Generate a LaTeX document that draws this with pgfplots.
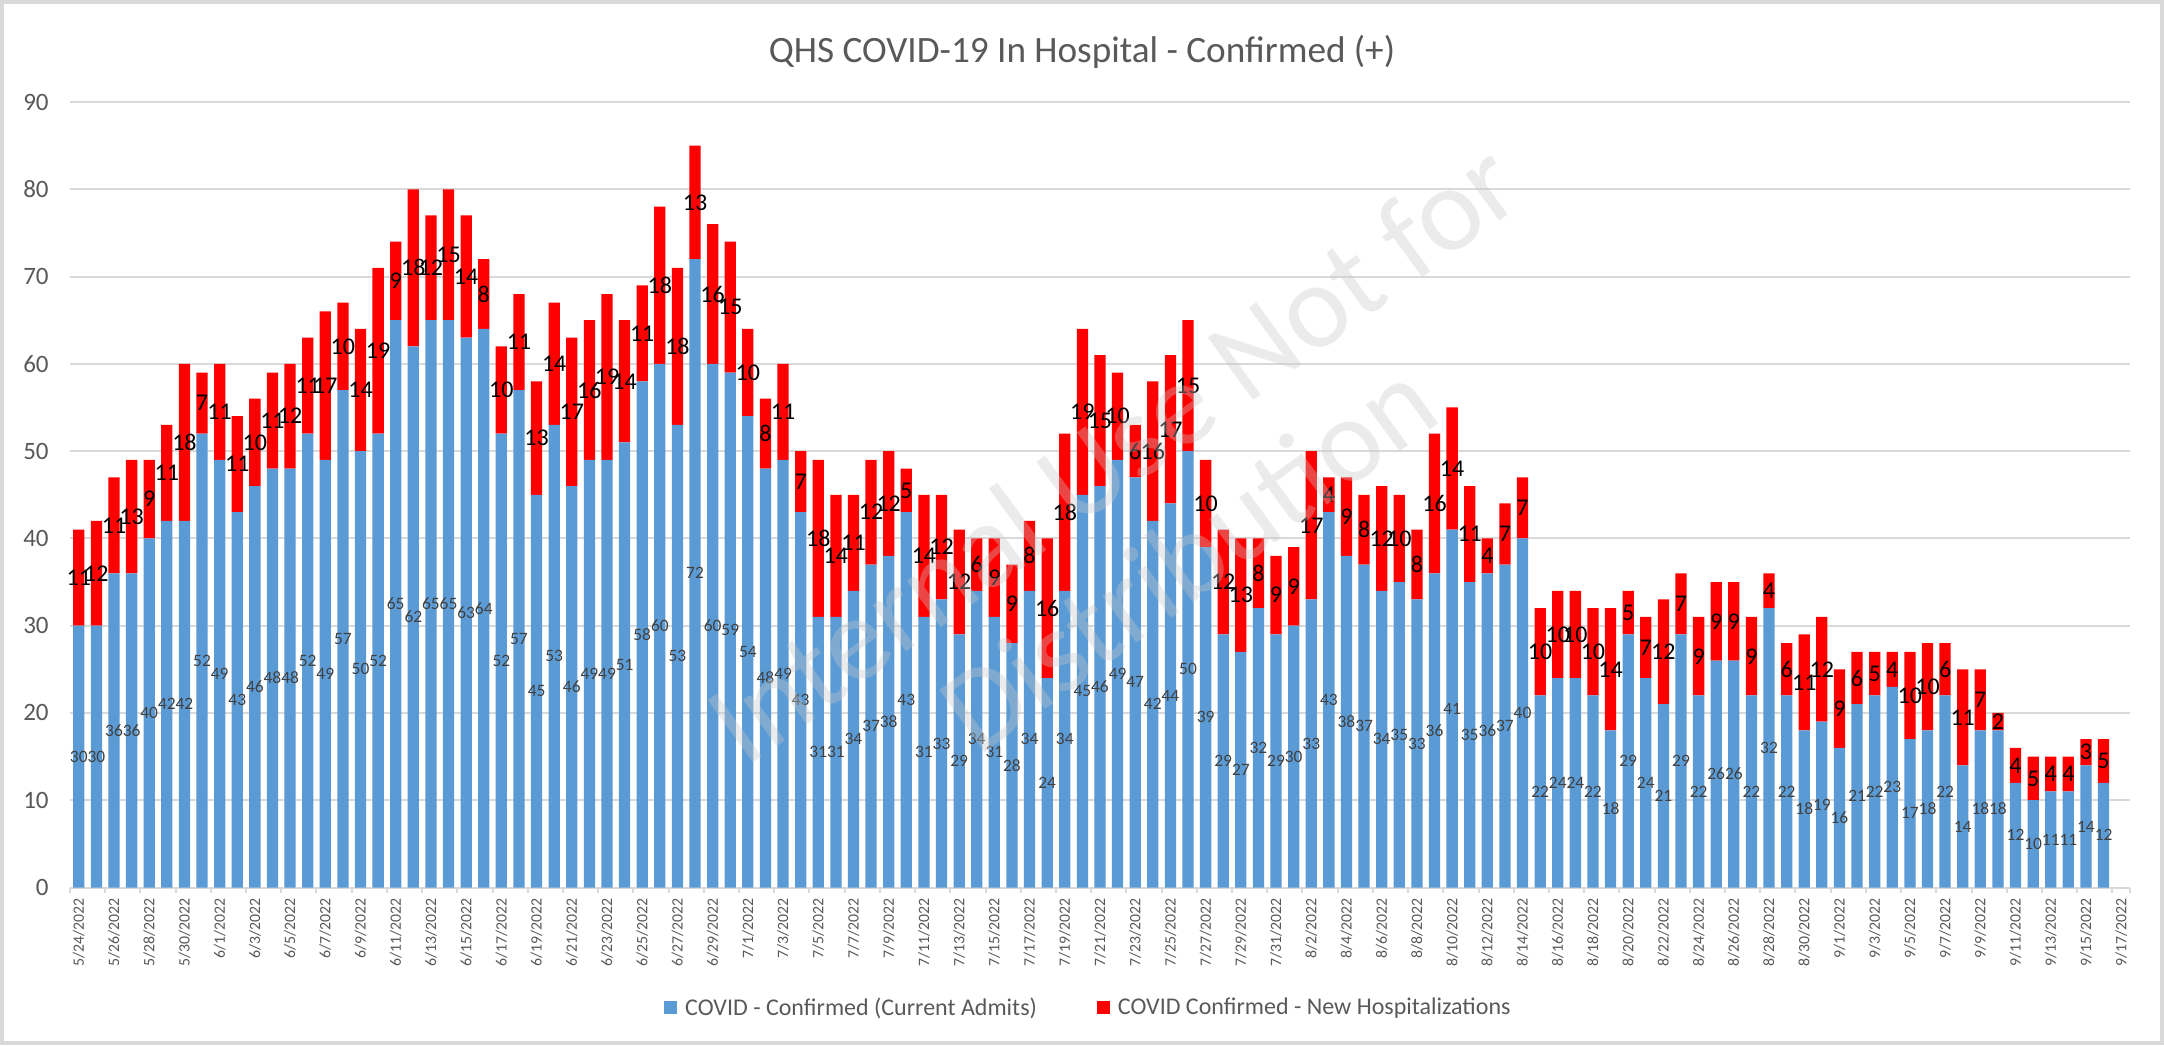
\documentclass[border=0pt]{standalone}
\usepackage{pgfplots}
\pgfplotsset{compat=1.18}
\usepackage{pgfplotstable}
\usepackage{fontspec}
\setmainfont{Carlito}
\definecolor{cblue}{HTML}{5B9BD5}
\definecolor{cred}{HTML}{FF0000}
\definecolor{txtgray}{HTML}{595959}
\definecolor{gridgray}{HTML}{D9D9D9}
\definecolor{lblgray}{HTML}{404040}
\definecolor{wmgray}{HTML}{C8C8C8}

\pgfplotstableread{
x b r
0 30 11
1 30 12
2 36 11
3 36 13
4 40 9
5 42 11
6 42 18
7 52 7
8 49 11
9 43 11
10 46 10
11 48 11
12 48 12
13 52 11
14 49 17
15 57 10
16 50 14
17 52 19
18 65 9
19 62 18
20 65 12
21 65 15
22 63 14
23 64 8
24 52 10
25 57 11
26 45 13
27 53 14
28 46 17
29 49 16
30 49 19
31 51 14
32 58 11
33 60 18
34 53 18
35 72 13
36 60 16
37 59 15
38 54 10
39 48 8
40 49 11
41 43 7
42 31 18
43 31 14
44 34 11
45 37 12
46 38 12
47 43 5
48 31 14
49 33 12
50 29 12
51 34 6
52 31 9
53 28 9
54 34 8
55 24 16
56 34 18
57 45 19
58 46 15
59 49 10
60 47 6
61 42 16
62 44 17
63 50 15
64 39 10
65 29 12
66 27 13
67 32 8
68 29 9
69 30 9
70 33 17
71 43 4
72 38 9
73 37 8
74 34 12
75 35 10
76 33 8
77 36 16
78 41 14
79 35 11
80 36 4
81 37 7
82 40 7
83 22 10
84 24 10
85 24 10
86 22 10
87 18 14
88 29 5
89 24 7
90 21 12
91 29 7
92 22 9
93 26 9
94 26 9
95 22 9
96 32 4
97 22 6
98 18 11
99 19 12
100 16 9
101 21 6
102 22 5
103 23 4
104 17 10
105 18 10
106 22 6
107 14 11
108 18 7
109 18 2
110 12 4
111 10 5
112 11 4
113 11 4
114 14 3
115 12 5
}\datatable

\begin{document}
\begin{tikzpicture}
\path[use as bounding box] (-35pt,-78.75pt) rectangle (1047pt,443.75pt);
\fill[white] (-35pt,-78.75pt) rectangle (1047pt,443.75pt);
\draw[gridgray, line width=2pt] (-34pt,-77.75pt) rectangle (1046pt,442.75pt);
\begin{axis}[
  at={(0pt,0pt)}, anchor=south west,
  scale only axis, width=1030pt, height=392.75pt,
  ybar stacked, bar width=0.64,
  xmin=-0.5, xmax=116.5, ymin=0, ymax=90,
  ytick={0,10,...,90},
  ymajorgrids, grid style={gridgray, line width=1pt},
  axis x line*=bottom, axis y line*=left,
  x axis line style={gridgray, line width=1pt, -},
  y axis line style={draw=none},
  major tick length=0pt,
  tick align=outside,
  tick style={gridgray, line width=1pt},
  /pgf/number format/assume math mode=true,
  xtick={0,2,...,116},
  xticklabels={5/24/2022,5/26/2022,5/28/2022,5/30/2022,
    6/1/2022,6/3/2022,6/5/2022,6/7/2022,6/9/2022,6/11/2022,6/13/2022,6/15/2022,6/17/2022,6/19/2022,6/21/2022,6/23/2022,6/25/2022,6/27/2022,6/29/2022,
    7/1/2022,7/3/2022,7/5/2022,7/7/2022,7/9/2022,7/11/2022,7/13/2022,7/15/2022,7/17/2022,7/19/2022,7/21/2022,7/23/2022,7/25/2022,7/27/2022,7/29/2022,7/31/2022,
    8/2/2022,8/4/2022,8/6/2022,8/8/2022,8/10/2022,8/12/2022,8/14/2022,8/16/2022,8/18/2022,8/20/2022,8/22/2022,8/24/2022,8/26/2022,8/28/2022,8/30/2022,
    9/1/2022,9/3/2022,9/5/2022,9/7/2022,9/9/2022,9/11/2022,9/13/2022,9/15/2022,9/17/2022},
  xticklabel style={yshift=-5.25pt, rotate=90, anchor=east, inner sep=0pt,
    font=\fontsize{7.9}{8}\selectfont, text=txtgray},
  extra x ticks={-0.5,1.5,...,115.5,116.5},
  extra x tick labels={},
  extra x tick style={grid=none, major tick length=2.5pt},
  yticklabel style={xshift=-10.5pt, inner sep=0pt,
    font=\fontsize{12.5}{13}\selectfont, text=txtgray},
  title={QHS COVID-19 In Hospital - Confirmed (+)},
  title style={at={(0.4913,1.0637)}, anchor=center, yshift=-6pt, inner sep=0pt,
    font=\fontsize{18.6}{20}\selectfont, text=txtgray},
  legend style={at={(0.4939,-0.1534)}, anchor=center, draw=none, fill=none,
    legend columns=2, font=\fontsize{12}{14}\selectfont, text=txtgray,
    nodes={inner sep=0pt},
    /tikz/every odd column/.append style={column sep=4pt},
    /tikz/every even column/.append style={column sep=30pt}},
  legend cell align=left,
  legend image code/.code={\fill[#1] (0pt,-3.25pt) rectangle (6.5pt,3.25pt);},
]
\addplot[fill=cblue, draw=none,
  nodes near coords, point meta=explicit,
  every node near coord/.append style={anchor=center,
    font=\fontsize{8.7}{9}\selectfont, text=lblgray}]
  table[x=x, y=b, meta=b] {\datatable};
\addlegendentry{COVID - Confirmed (Current Admits)}
\addplot[fill=cred, draw=none,
  nodes near coords, point meta=explicit,
  every node near coord/.append style={anchor=center,
    font=\fontsize{12}{13}\selectfont, text=black}]
  table[x=x, y=r, meta=r] {\datatable};
\addlegendentry{COVID Confirmed - New Hospitalizations}
\end{axis}
\node[rotate=36, text=wmgray, text opacity=0.35, align=center,
  font=\fontsize{60}{64}\selectfont] at (540pt,192pt)
  {Internal Use Not for\\Distribution};
\end{tikzpicture}
\end{document}
